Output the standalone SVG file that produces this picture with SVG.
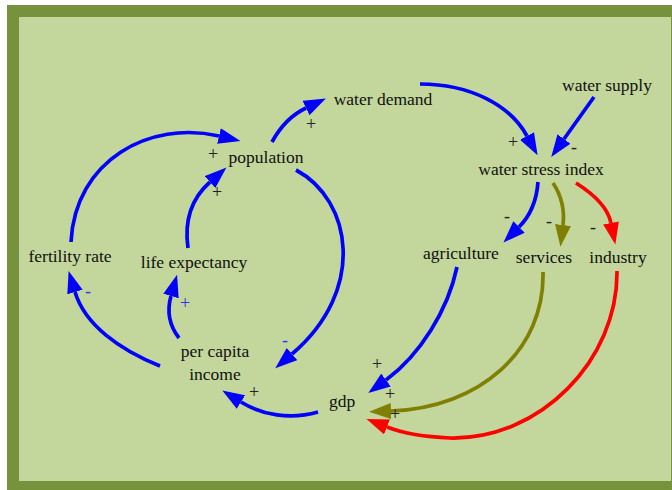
<svg xmlns="http://www.w3.org/2000/svg" width="672" height="490" viewBox="0 0 672 490">
  <style>
    .node { font-family: "Liberation Serif", "Times New Roman", "DejaVu Serif", serif; font-size: 17.5px; fill: #111; text-anchor: middle; }
    .pol { font-family: "Liberation Serif", "Times New Roman", "DejaVu Serif", serif; font-size: 18px; fill: #222; text-anchor: middle; }
    .pol.b { fill: #3030ff; }
    .c { fill: none; stroke-width: 3.7; stroke-linecap: butt; }
    .blue { stroke: #0000ff; marker-end: url(#ab); }
    .olive { stroke: #808000; marker-end: url(#ao); }
    .red { stroke: #ff0000; marker-end: url(#ar); }
  </style>
  <defs>
    <marker id="ab" markerUnits="userSpaceOnUse" viewBox="0 0 22 16" markerWidth="22" markerHeight="16" refX="0" refY="8" orient="auto">
      <path d="M0,0 L22,8 L0,16 z" fill="#0000ff"/>
    </marker>
    <marker id="ao" markerUnits="userSpaceOnUse" viewBox="0 0 22 16" markerWidth="22" markerHeight="16" refX="0" refY="8" orient="auto">
      <path d="M0,0 L22,8 L0,16 z" fill="#808000"/>
    </marker>
    <marker id="ar" markerUnits="userSpaceOnUse" viewBox="0 0 22 16" markerWidth="22" markerHeight="16" refX="0" refY="8" orient="auto">
      <path d="M0,0 L22,8 L0,16 z" fill="#ff0000"/>
    </marker>
  </defs>

  <rect x="0" y="0" width="672" height="490" fill="#ffffff"/>
  <rect x="13" y="11" width="664" height="476" fill="#C3D69B" stroke="#76923C" stroke-width="12"/>

  <g id="connectors">
    <path class="c blue" d="M272,142 Q285,118 306,108"/>
    <path class="c blue" d="M420,84 C470,84 510,105 527,136"/>
    <path class="c blue" d="M594,97 L564,139"/>
    <path class="c blue" d="M538,182 Q536,210 519,227"/>
    <path class="c olive" d="M553,183 C561,195 565,208 563,225"/>
    <path class="c red" d="M576,183 C595,195 608,208 611,223"/>
    <path class="c blue" d="M457,267 C448,310 420,355 386,380"/>
    <path class="c olive" d="M543,272 C545,350 480,408 391,411"/>
    <path class="c red" d="M617,271 C618,360 540,440 450,438 C425,437 405,434 387,427"/>
    <path class="c blue" d="M318,412 C290,420 262,415 241,402"/>
    <path class="c blue" d="M160,366 C120,350 85,325 75,292"/>
    <path class="c blue" d="M179,338 C169,325 167,310 171,296"/>
    <path class="c blue" d="M71,242 C75,160 150,120 219,136"/>
    <path class="c blue" d="M188,248 C184,220 192,198 210,182"/>
    <path class="c blue" d="M296,170 C352,200 367,290 292,354"/>

    <g id="polarities">
      <text class="pol" x="311" y="130">+</text>
      <text class="pol" x="513" y="148">+</text>
      <text class="pol" x="574" y="153">-</text>
      <text class="pol" x="507" y="222">-</text>
      <text class="pol" x="549" y="227">-</text>
      <text class="pol" x="593" y="233">-</text>
      <text class="pol" x="377" y="370">+</text>
      <text class="pol" x="390" y="400">+</text>
      <text class="pol" x="395" y="420">+</text>
      <text class="pol" x="254" y="398">+</text>
      <text class="pol b" x="88" y="297">-</text>
      <text class="pol b" x="185" y="309">+</text>
      <text class="pol" x="213" y="160">+</text>
      <text class="pol" x="217" y="198">+</text>
      <text class="pol b" x="285" y="346">-</text>
    </g>
  </g>

  <g id="water-demand"><text class="node" x="383" y="105">water demand</text></g>
  <g id="water-supply"><text class="node" x="607" y="91">water supply</text></g>
  <g id="water-stress-index"><text class="node" x="541" y="175">water stress index</text></g>
  <g id="agriculture"><text class="node" x="461" y="259">agriculture</text></g>
  <g id="services"><text class="node" x="544" y="263">services</text></g>
  <g id="industry"><text class="node" x="618" y="263">industry</text></g>
  <g id="population"><text class="node" x="266" y="163">population</text></g>
  <g id="fertility-rate"><text class="node" x="70" y="262">fertility rate</text></g>
  <g id="life-expectancy"><text class="node" x="194" y="268">life expectancy</text></g>
  <g id="per-capita-income"><text class="node" x="215" y="357">per capita</text><text class="node" x="215" y="380">income</text></g>
  <g id="gdp"><text class="node" x="342" y="407">gdp</text></g>
</svg>
